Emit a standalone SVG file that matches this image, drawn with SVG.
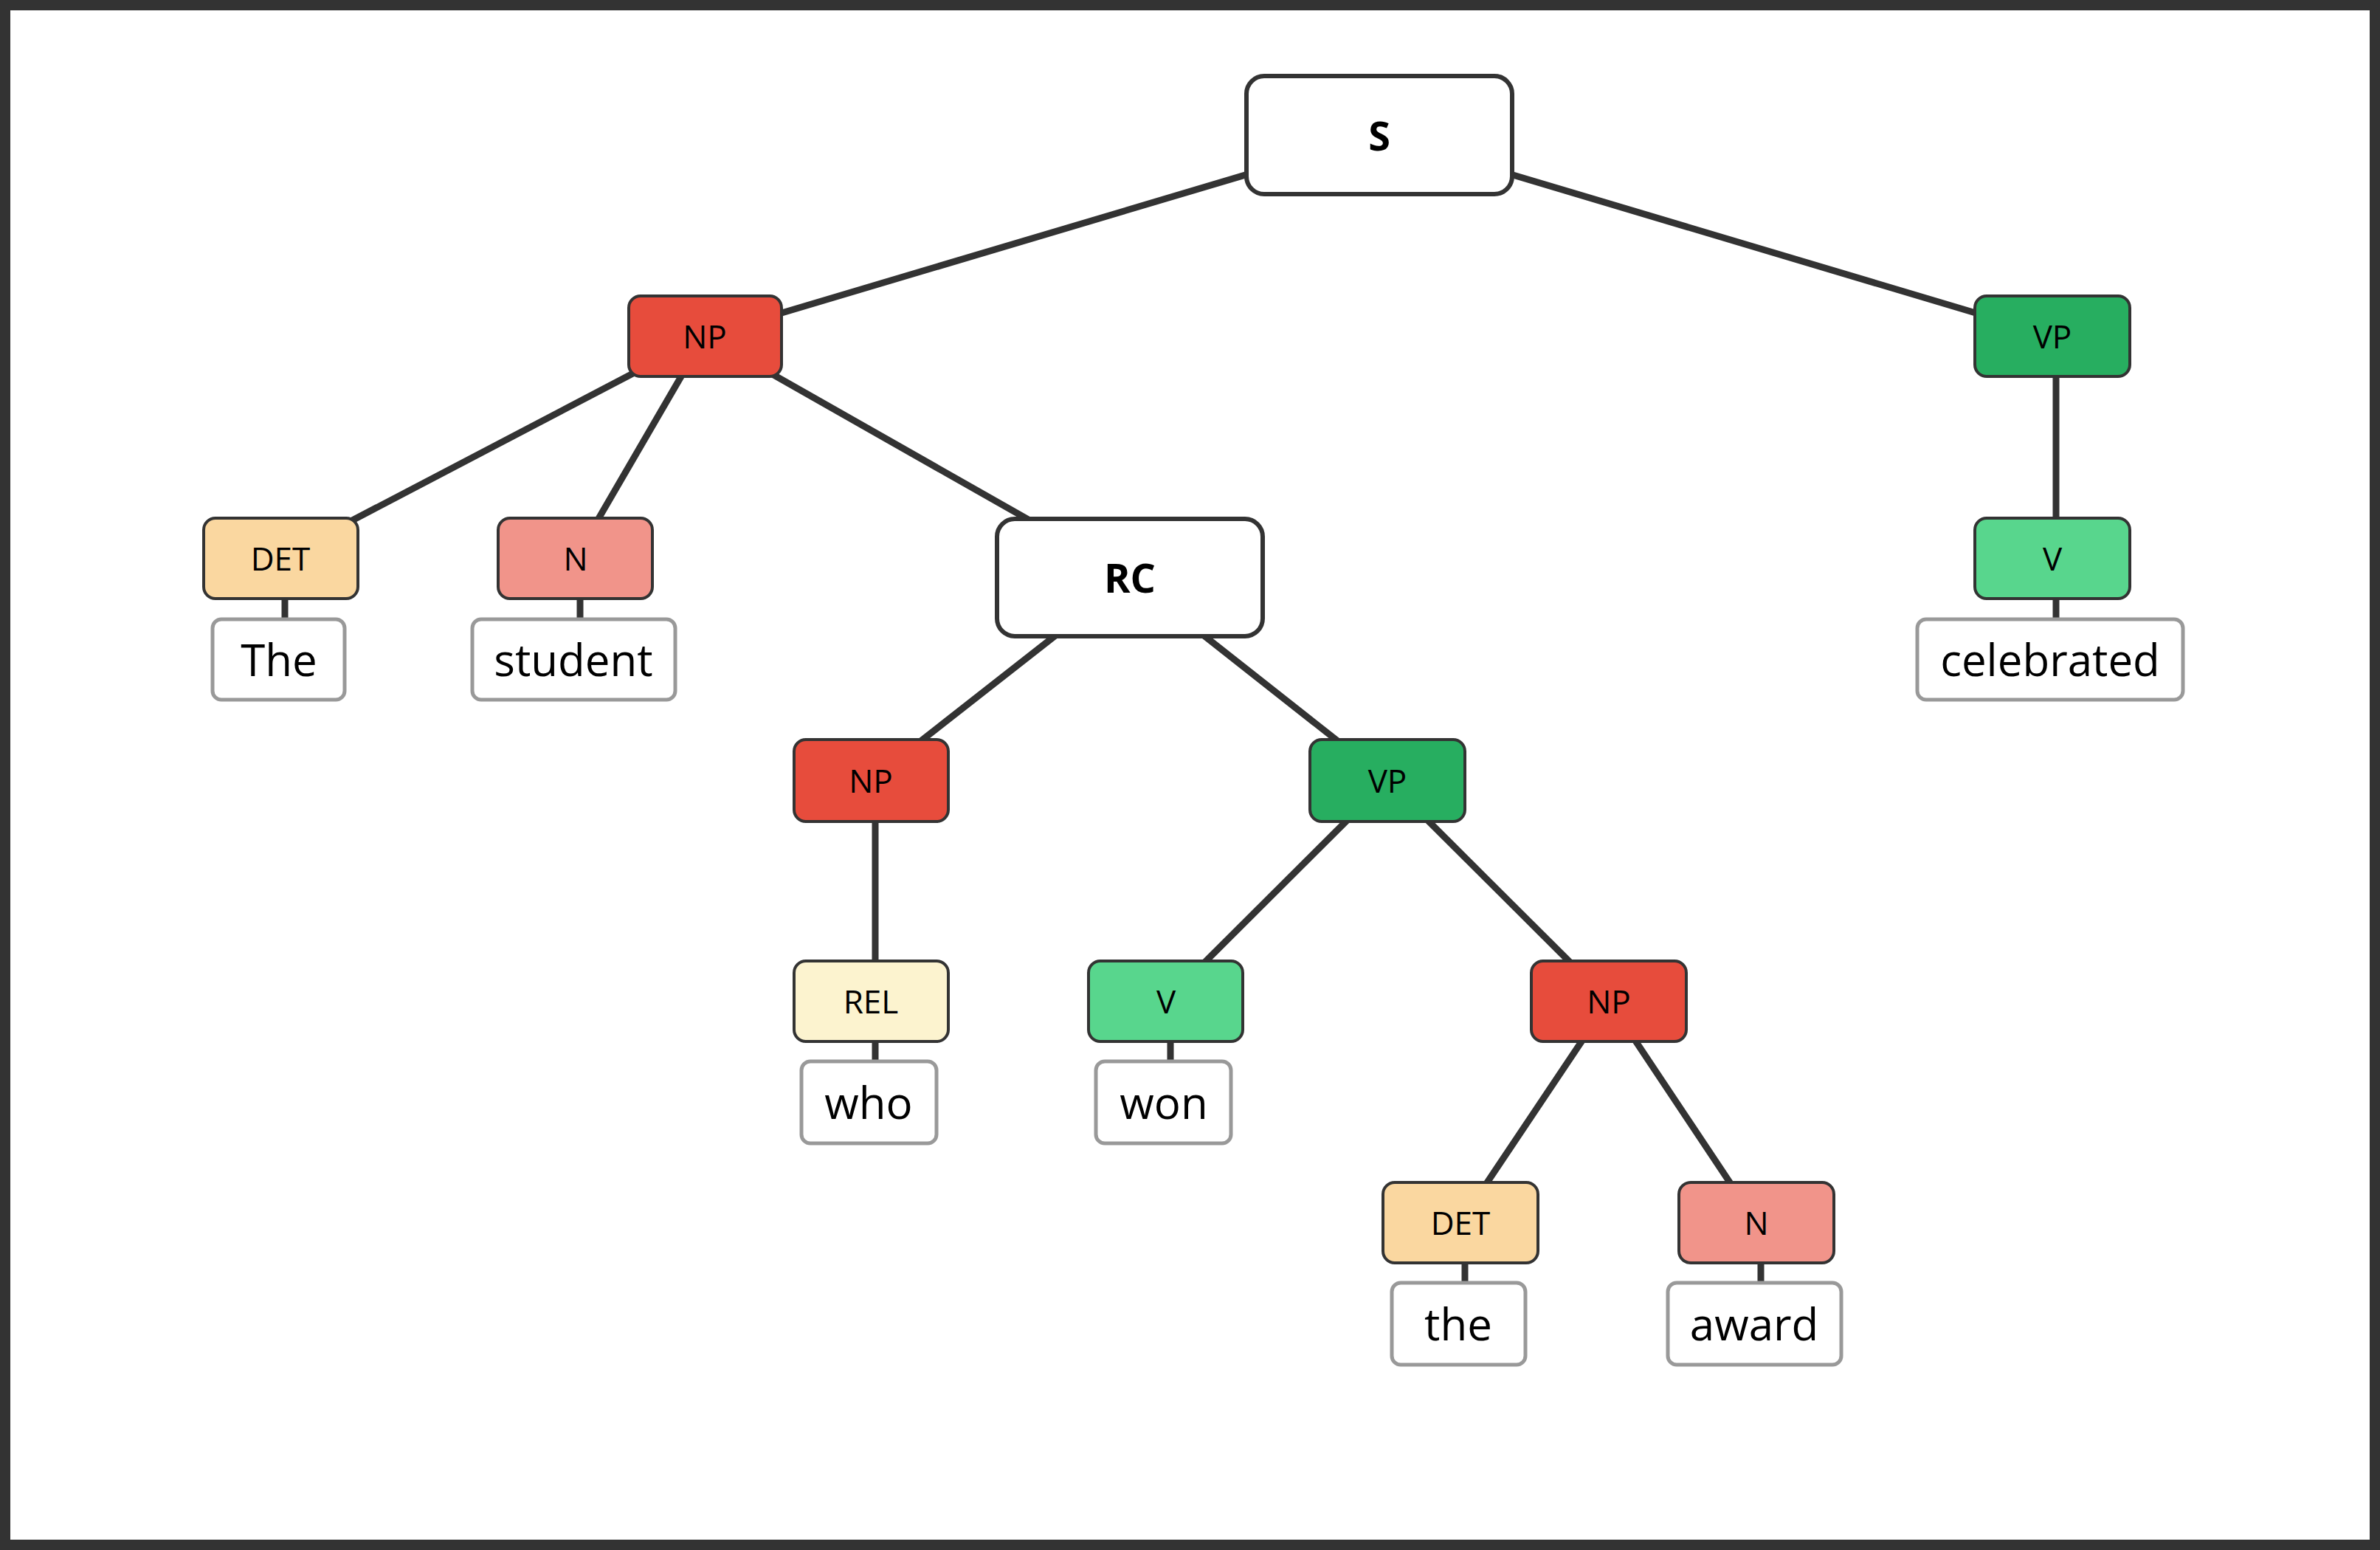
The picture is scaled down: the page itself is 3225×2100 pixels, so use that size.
<svg xmlns="http://www.w3.org/2000/svg" width="3225" height="2100" viewBox="0 0 3225 2100">
<style>
.e{stroke:#333;stroke-width:9;fill:none}
.t{stroke:#333;stroke-width:4}
.p{fill:#fff;stroke:#333;stroke-width:6}
.w{fill:#fff;stroke:#999;stroke-width:5}
.l{font-family:"Open Sans","Noto Sans",sans-serif;font-size:44px;fill:#000;text-anchor:middle;dominant-baseline:central}
.b{font-family:"Open Sans","Noto Sans",sans-serif;font-size:54px;font-weight:bold;fill:#000;text-anchor:middle;dominant-baseline:central}
.x{font-family:"Open Sans","Noto Sans",sans-serif;font-size:60px;fill:#000;text-anchor:middle;dominant-baseline:central}
</style>
<rect x="7" y="7" width="3211" height="2086" fill="#fff" stroke="#333" stroke-width="14"/>
<g id="connectors">
<line class="e" x1="1869" y1="183" x2="955" y2="455"/>
<line class="e" x1="1869" y1="183" x2="2781" y2="455"/>
<line class="e" x1="955" y1="455" x2="380" y2="756"/>
<line class="e" x1="955" y1="455" x2="780" y2="756"/>
<line class="e" x1="955" y1="455" x2="1531" y2="782"/>
<line class="e" x1="2786" y1="455" x2="2786" y2="756"/>
<line class="e" x1="1531" y1="782" x2="1180" y2="1057"/>
<line class="e" x1="1531" y1="782" x2="1880" y2="1057"/>
<line class="e" x1="1186" y1="1057" x2="1186" y2="1356"/>
<line class="e" x1="1880" y1="1057" x2="1580" y2="1356"/>
<line class="e" x1="1880" y1="1057" x2="2180" y2="1356"/>
<line class="e" x1="2180" y1="1356" x2="1979" y2="1656"/>
<line class="e" x1="2180" y1="1356" x2="2380" y2="1656"/>
<line class="e" x1="386" y1="800" x2="386" y2="845"/>
<line class="e" x1="786" y1="800" x2="786" y2="845"/>
<line class="e" x1="2786" y1="800" x2="2786" y2="845"/>
<line class="e" x1="1186" y1="1400" x2="1186" y2="1444"/>
<line class="e" x1="1586" y1="1400" x2="1586" y2="1444"/>
<line class="e" x1="1985" y1="1700" x2="1985" y2="1744"/>
<line class="e" x1="2386" y1="1700" x2="2386" y2="1744"/>
</g>
<g id="S"><rect class="p" x="1689" y="103" width="360" height="160" rx="24"/><text class="b" x="1869" y="183">S</text></g>
<g id="NP1"><rect class="t" fill="#E74C3C" x="852" y="401" width="207" height="109" rx="16"/><text class="l" x="955" y="455">NP</text></g>
<g id="VP1"><rect class="t" fill="#27AE60" x="2676" y="401" width="210" height="109" rx="16"/><text class="l" x="2781" y="455">VP</text></g>
<g id="DET1"><rect class="t" fill="#FAD7A0" x="276" y="702" width="209" height="109" rx="16"/><text class="l" x="380" y="756">DET</text></g>
<g id="N1"><rect class="t" fill="#F1948A" x="675" y="702" width="209" height="109" rx="16"/><text class="l" x="780" y="756">N</text></g>
<g id="RC"><rect class="p" x="1351" y="703" width="360" height="159" rx="24"/><text class="b" x="1531" y="782">RC</text></g>
<g id="V1"><rect class="t" fill="#58D68D" x="2676" y="702" width="210" height="109" rx="16"/><text class="l" x="2781" y="756">V</text></g>
<g id="NP2"><rect class="t" fill="#E74C3C" x="1076" y="1002" width="209" height="111" rx="16"/><text class="l" x="1180" y="1057">NP</text></g>
<g id="VP2"><rect class="t" fill="#27AE60" x="1775" y="1002" width="210" height="111" rx="16"/><text class="l" x="1880" y="1057">VP</text></g>
<g id="REL"><rect class="t" fill="#FCF3CF" x="1076" y="1302" width="209" height="109" rx="16"/><text class="l" x="1180" y="1356">REL</text></g>
<g id="V2"><rect class="t" fill="#58D68D" x="1475" y="1302" width="209" height="109" rx="16"/><text class="l" x="1580" y="1356">V</text></g>
<g id="NP3"><rect class="t" fill="#E74C3C" x="2075" y="1302" width="210" height="109" rx="16"/><text class="l" x="2180" y="1356">NP</text></g>
<g id="DET2"><rect class="t" fill="#FAD7A0" x="1874" y="1602" width="210" height="109" rx="16"/><text class="l" x="1979" y="1656">DET</text></g>
<g id="N2"><rect class="t" fill="#F1948A" x="2275" y="1602" width="210" height="109" rx="16"/><text class="l" x="2380" y="1656">N</text></g>
<g id="w-The"><rect class="w" x="288" y="839" width="179" height="109" rx="12"/><text class="x" x="378" y="893">The</text></g>
<g id="w-student"><rect class="w" x="640" y="839" width="275" height="109" rx="12"/><text class="x" x="777" y="893">student</text></g>
<g id="w-celebrated"><rect class="w" x="2598" y="839" width="360" height="109" rx="12"/><text class="x" x="2778" y="893">celebrated</text></g>
<g id="w-who"><rect class="w" x="1086" y="1438" width="183" height="111" rx="12"/><text class="x" x="1177" y="1493">who</text></g>
<g id="w-won"><rect class="w" x="1485" y="1438" width="183" height="111" rx="12"/><text class="x" x="1577" y="1493">won</text></g>
<g id="w-the"><rect class="w" x="1886" y="1738" width="181" height="111" rx="12"/><text class="x" x="1976" y="1793">the</text></g>
<g id="w-award"><rect class="w" x="2260" y="1738" width="235" height="111" rx="12"/><text class="x" x="2377" y="1793">award</text></g>
</svg>
